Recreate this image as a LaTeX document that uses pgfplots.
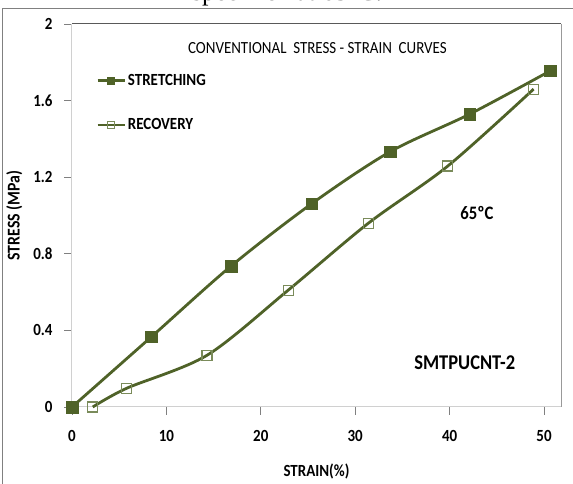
\documentclass[border=0pt]{standalone}
\usepackage{pgfplots}
\pgfplotsset{compat=1.18}
\usepackage{fontspec}
\setmainfont{Carlito}[FakeStretch=0.88]
\newfontfamily\capfont{Liberation Serif}
\definecolor{olive}{HTML}{4F6228}
\definecolor{olivelight}{HTML}{7A8B5A}
\definecolor{axgray}{HTML}{D0D0D0}
\newcommand{\fs}[1]{\fontsize{#1}{#1}\selectfont}

\begin{document}
\begin{tikzpicture}
\useasboundingbox (0,0) rectangle (573pt,484pt);
% caption of the page, mostly cut off above
\node[font=\capfont\fs{26}, anchor=base] at (287pt,483.5pt) {specimen at 65°C.};
% outer frame of the figure
\draw[gray] (2pt,0pt) -- (2pt,476pt) -- (573pt,476pt);

\begin{axis}[
  at={(72pt,77pt)}, anchor=south west,
  scale only axis,
  width=489pt, height=383pt,
  xmin=0, xmax=51.8,
  ymin=0, ymax=2,
  xtick={0,10,20,30,40,50},
  ytick={0,0.4,0.8,1.2,1.6,2},
  yticklabels={0,0.4,0.8,1.2,1.6,2},
  axis x line*=bottom, axis y line*=left,
  axis line style={axgray, line width=1pt},
  tick style={gray, line width=0.8pt},
  tick align=outside,
  major tick length=8pt,
  /pgf/number format/assume math mode=true,
  tick label style={font=\bfseries\fs{17}},
  xticklabel style={yshift=-12pt},
  yticklabel style={xshift=-8pt},
  xlabel={\bfseries\fs{17}STRAIN(\%)},
  ylabel={\bfseries\fs{18}STRESS (MPa)},
  xlabel style={at={(ticklabel cs:0.5)}, anchor=north, yshift=-15pt},
  ylabel style={at={(ticklabel cs:0.5)}, anchor=south, yshift=4pt},
  legend style={at={(0.049,0.875)}, anchor=north west, draw=none, fill=none,
                font=\bfseries\fs{17}, row sep=28pt, inner sep=0pt,
                /tikz/every even column/.append style={column sep=2pt}},
  legend cell align={left},
  legend image code/.code={\draw[#1, mark size=3.6pt, mark repeat=2, mark phase=2]
      plot coordinates {(0pt,0pt) (13.5pt,0pt) (27pt,0pt)};},
  clip=false,
]
\draw[gray!70!black, line width=1pt] (rel axis cs:0,1) -- (rel axis cs:1,1);
\draw[gray!80, line width=1pt] (rel axis cs:1,1) -- (rel axis cs:1,0);

% stretching branch
\addplot[olive, line width=2.8pt, smooth, mark=square*,
         mark size=5.8pt, mark options={fill=olive, draw=olive, line width=0.5pt}]
  coordinates {(0,0) (8.4,0.366) (16.85,0.736) (25.4,1.062) (33.7,1.333) (42.15,1.53) (50.65,1.755)};
\addlegendentry{STRETCHING}

% recovery branch
\addplot[olive, line width=2.8pt, smooth, mark=square,
         mark size=5pt, mark options={draw=olivelight, fill=none, line width=1.2pt}]
  coordinates {(2.2,0) (5.8,0.098) (14.3,0.27) (22.9,0.61) (31.4,0.96) (39.8,1.258) (48.9,1.66)};
\addlegendentry{RECOVERY}

\node[font=\fs{17}] at (axis cs:26.0,1.875) {CONVENTIONAL\ \ STRESS - STRAIN\ \ CURVES};
\node[font=\bfseries\fs{19}] at (axis cs:42.9,1.012) {65ºC};
\node[font=\bfseries\fs{21}] at (axis cs:41.6,0.23) {SMTPUCNT-2};
\end{axis}
\end{tikzpicture}
\end{document}
